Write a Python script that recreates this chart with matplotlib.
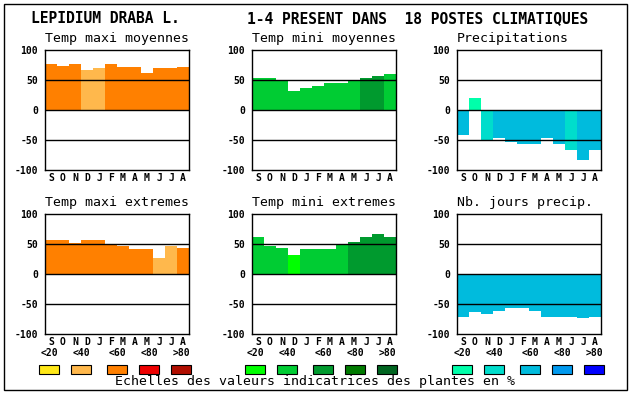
import matplotlib
matplotlib.use("Agg")
import matplotlib.pyplot as plt
from matplotlib.patches import Rectangle

W, H = 630, 394

months = ["S", "O", "N", "D", "J", "F", "M", "A", "M", "J", "J", "A"]
yticks = [100, 50, 0, -50, -100]
scale_labels = ["<20", "<40", "<60", "<80", ">80"]

orange_scale = ["#ffe818", "#ffb84c", "#ff8000", "#ee0000", "#b00e00"]
green_scale = ["#00ff00", "#00cc33", "#009a2e", "#007a00", "#006420"]
blue_scale = ["#00ffaa", "#00ddcc", "#00bbdd", "#0099ee", "#0000ff"]

titles = ["Temp maxi moyennes", "Temp mini moyennes", "Precipitations",
          "Temp maxi extremes", "Temp mini extremes", "Nb. jours precip."]

tmax_moy = [77, 74, 76, 67, 70, 76, 72, 72, 61, 70, 70, 72]
tmax_moy_cls = [2, 2, 2, 1, 1, 2, 2, 2, 2, 2, 2, 2]

tmin_moy = [54, 54, 50, 32, 37, 40, 45, 45, 49, 54, 57, 60]
tmin_moy_cls = [1, 1, 1, 1, 1, 1, 1, 1, 1, 2, 2, 1]

precip = [-42, 20, -52, -46, -54, -57, -56, -46, -56, -66, -84, -66]
precip_cls = [2, 0, 1, 2, 2, 2, 2, 2, 2, 1, 2, 2]

tmax_ext = [56, 57, 52, 56, 57, 49, 46, 42, 41, 26, 46, 44]
tmax_ext_cls = [2, 2, 2, 2, 2, 2, 2, 2, 2, 1, 1, 2]

tmin_ext = [61, 46, 44, 32, 42, 42, 41, 49, 54, 61, 66, 62]
tmin_ext_cls = [1, 1, 1, 0, 1, 1, 1, 1, 2, 2, 2, 2]

jours = [-71, -63, -66, -61, -57, -56, -61, -71, -71, -72, -74, -71]
jours_cls = [2] * 12

panels = [
    (tmax_moy, tmax_moy_cls, orange_scale),
    (tmin_moy, tmin_moy_cls, green_scale),
    (precip, precip_cls, blue_scale),
    (tmax_ext, tmax_ext_cls, orange_scale),
    (tmin_ext, tmin_ext_cls, green_scale),
    (jours, jours_cls, blue_scale),
]

MONO = "DejaVu Sans Mono"

fig = plt.figure(figsize=(W / 100, H / 100), dpi=100)
fig.patch.set_facecolor("white")


def fx(x):
    return x / W


def fy(y):
    return 1 - y / H


# outer border
fig.add_artist(Rectangle((fx(4), fy(390)), fx(623), (386) / H, transform=fig.transFigure,
                         fill=False, edgecolor="black", linewidth=1.0))

col_x = [45, 252, 457]
row_y = [50, 214]
ax_w, ax_h = 144, 120

for i, (vals, cls, pal) in enumerate(panels):
    r, c = divmod(i, 3)
    x0, y0 = col_x[c], row_y[r]
    ax = fig.add_axes([fx(x0), fy(y0 + ax_h), ax_w / W, ax_h / H])
    xs = list(range(len(months)))
    ax.bar(xs, vals, width=1.0, color=[pal[k] for k in cls], linewidth=0, zorder=2)
    for yl in (50, 0, -50):
        ax.axhline(yl, color="black", linewidth=1.0, zorder=3)
    ax.set_xlim(-0.5, 11.5)
    ax.set_ylim(-100, 100)
    ax.set_xticks(xs)
    ax.set_xticklabels(months, fontfamily=MONO, fontweight="bold", fontsize=7)
    ax.set_yticks(yticks)
    ax.set_yticklabels([str(v) for v in yticks], fontfamily=MONO, fontweight="bold", fontsize=7)
    ax.tick_params(length=0, pad=2)
    ax.tick_params(axis="y", pad=5)
    for s in ax.spines.values():
        s.set_linewidth(1.0)
        s.set_zorder(4)
    fig.text(fx(x0), fy(38.5), titles[i], fontfamily=MONO, fontsize=9.5,
             ha="left", va="center") if r == 0 else \
        fig.text(fx(x0), fy(202.5), titles[i], fontfamily=MONO, fontsize=9.5,
                 ha="left", va="center")

fig.text(fx(31), fy(18.5), "LEPIDIUM DRABA L.", fontfamily=MONO, fontsize=10.5,
         fontweight="bold", ha="left", va="center")
fig.text(fx(247), fy(18.5), "1-4 PRESENT DANS  18 POSTES CLIMATIQUES", fontfamily=MONO,
         fontsize=10.5, fontweight="bold", ha="left", va="center")

# legend scales
group_x = [39, 245, 452]
box_off = [0, 32, 68, 100, 132]
for g, pal in enumerate([orange_scale, green_scale, blue_scale]):
    for k in range(5):
        bx = group_x[g] + box_off[k]
        fig.add_artist(Rectangle((fx(bx), fy(373.5)), 20 / W, 9 / H, transform=fig.transFigure,
                                 facecolor=pal[k], edgecolor="black", linewidth=0.8))
        fig.text(fx(bx + 10), fy(353.5), scale_labels[k], fontfamily=MONO, fontsize=7,
                 fontweight="bold", ha="center", va="center")

fig.text(fx(315), fy(381.5), "Echelles des valeurs indicatrices des plantes en %",
         fontfamily=MONO, fontsize=9.5, ha="center", va="center")

fig.savefig("out.png", dpi=100)
